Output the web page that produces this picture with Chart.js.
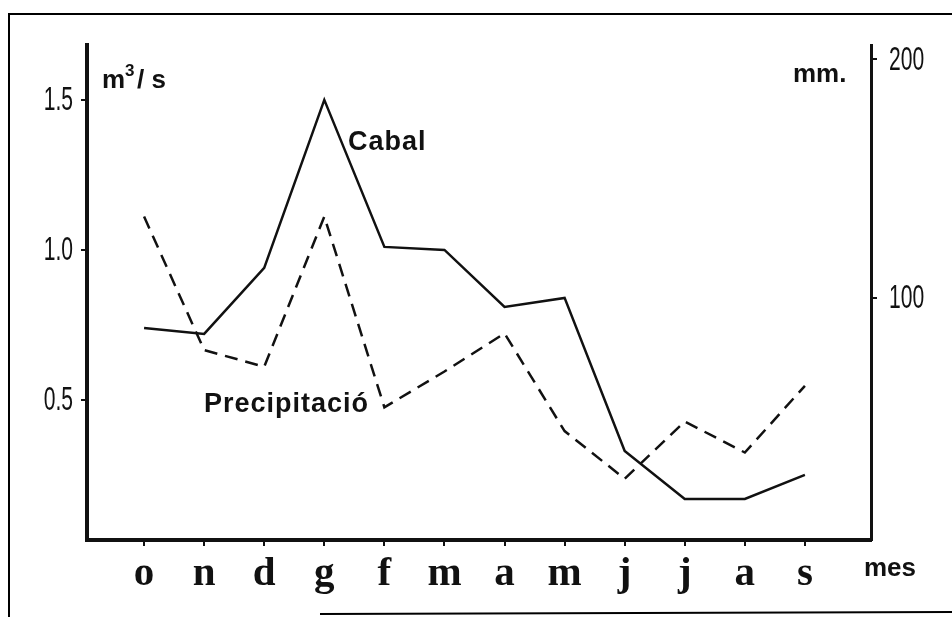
<!DOCTYPE html>
<html>
<head>
<meta charset="utf-8">
<script src="https://cdn.jsdelivr.net/npm/chart.js@4.4.0/dist/chart.umd.min.js"></script>
<style>
  html, body { margin: 0; padding: 0; background: #fff; }
  #wrap { position: relative; width: 952px; height: 617px; }
</style>
</head>
<body>
<div id="wrap"><canvas id="chart" width="952" height="617"></canvas></div>
<script>
// months, october to september
const months = ["o", "n", "d", "g", "f", "m", "a", "m", "j", "j", "a", "s"];
// discharge in m3/s (left axis)
const cabal = [0.74, 0.72, 0.94, 1.50, 1.01, 1.00, 0.81, 0.84, 0.33, 0.17, 0.17, 0.25];
// rainfall in mm (right axis)
const precipitacio = [134, 78, 71, 134, 54, 69, 85, 44, 24, 48, 35, 63];
const leftTicks = [0.5, 1.0, 1.5];
const rightTicks = [100, 200];

// narrow numbers: squeeze a normal sans horizontally
function narrowText(ctx, text, x, y, align) {
  ctx.save();
  ctx.font = "34px 'Liberation Sans', Arial, sans-serif";
  ctx.textAlign = align;
  ctx.textBaseline = "middle";
  ctx.translate(x, y);
  ctx.scale(0.62, 1);
  ctx.fillText(text, 0, 0);
  ctx.restore();
}

// frame, axis numbers and free text labels
const annotations = {
  id: "annotations",
  beforeDraw(chart) {
    const ctx = chart.ctx;
    ctx.save();
    ctx.strokeStyle = "#000";
    ctx.lineWidth = 2;
    ctx.beginPath();
    ctx.moveTo(9, 617);
    ctx.lineTo(9, 14);
    ctx.lineTo(952, 14);
    ctx.moveTo(320, 614);
    ctx.lineTo(952, 612);
    ctx.stroke();
    ctx.restore();
  },
  afterDraw(chart) {
    const ctx = chart.ctx;
    ctx.save();
    ctx.fillStyle = "#111";
    const y = chart.scales.y;
    leftTicks.forEach(v => narrowText(ctx, v.toFixed(1), 73, y.getPixelForValue(v) + 1, "right"));
    const y2 = chart.scales.y2;
    rightTicks.forEach(v => narrowText(ctx, String(v), 889, y2.getPixelForValue(v) + 1, "left"));

    ctx.textBaseline = "alphabetic";
    ctx.textAlign = "left";
    ctx.font = "bold 26px 'Liberation Sans', Arial, sans-serif";
    ctx.fillText("m", 102, 88);
    ctx.font = "bold 17px 'Liberation Sans', Arial, sans-serif";
    ctx.fillText("3", 125, 76);
    ctx.font = "bold 26px 'Liberation Sans', Arial, sans-serif";
    ctx.fillText("/ s", 137, 88);
    ctx.fillText("mm.", 793, 82);
    ctx.fillText("mes", 864, 576);
    ctx.font = "bold 27px 'Liberation Sans', Arial, sans-serif";
    ctx.letterSpacing = "1px";
    ctx.fillText("Cabal", 348, 150);
    ctx.fillText("Precipitació", 204, 412);
    ctx.restore();
  }
};

const tickGrid = { drawOnChartArea: false, drawTicks: true, tickLength: 6, color: "#111", lineWidth: 2 };

new Chart(document.getElementById("chart"), {
  type: "line",
  data: {
    datasets: [
      {
        label: "Cabal",
        data: cabal.map((v, i) => ({ x: i, y: v })),
        yAxisID: "y",
        borderColor: "#111",
        borderWidth: 2.5,
        pointRadius: 0,
        tension: 0
      },
      {
        label: "Precipitació",
        data: precipitacio.map((v, i) => ({ x: i, y: v })),
        yAxisID: "y2",
        borderColor: "#111",
        borderWidth: 2.5,
        borderDash: [13, 8],
        pointRadius: 0,
        tension: 0
      }
    ]
  },
  options: {
    responsive: false,
    animation: false,
    layout: { padding: { top: 45, left: 0, right: 0, bottom: 0 } },
    plugins: { legend: { display: false }, tooltip: { enabled: false } },
    scales: {
      x: {
        type: "linear",
        min: -0.95,
        max: 12.1,
        afterBuildTicks: scale => { scale.ticks = months.map((m, i) => ({ value: i })); },
        afterFit: scale => { scale.height = 77; },
        ticks: {
          callback: (v) => months[v],
          color: "#111",
          font: { family: "'Liberation Serif', 'DejaVu Serif', serif", size: 41, weight: "bold" },
          padding: 4,
          maxRotation: 0,
          autoSkip: false
        },
        grid: tickGrid,
        border: { display: true, color: "#111", width: 4 }
      },
      y: {
        position: "left",
        min: 0.033,
        max: 1.683,
        afterBuildTicks: scale => { scale.ticks = leftTicks.map(v => ({ value: v })); },
        afterFit: scale => { scale.width = 87; },
        ticks: { display: false },
        grid: tickGrid,
        border: { display: true, color: "#111", width: 4 }
      },
      y2: {
        position: "right",
        min: -1.7,
        max: 206,
        afterBuildTicks: scale => { scale.ticks = rightTicks.map(v => ({ value: v })); },
        afterFit: scale => { scale.width = 81; },
        ticks: { display: false },
        grid: tickGrid,
        border: { display: true, color: "#111", width: 3 }
      }
    }
  },
  plugins: [annotations]
});
</script>
</body>
</html>
